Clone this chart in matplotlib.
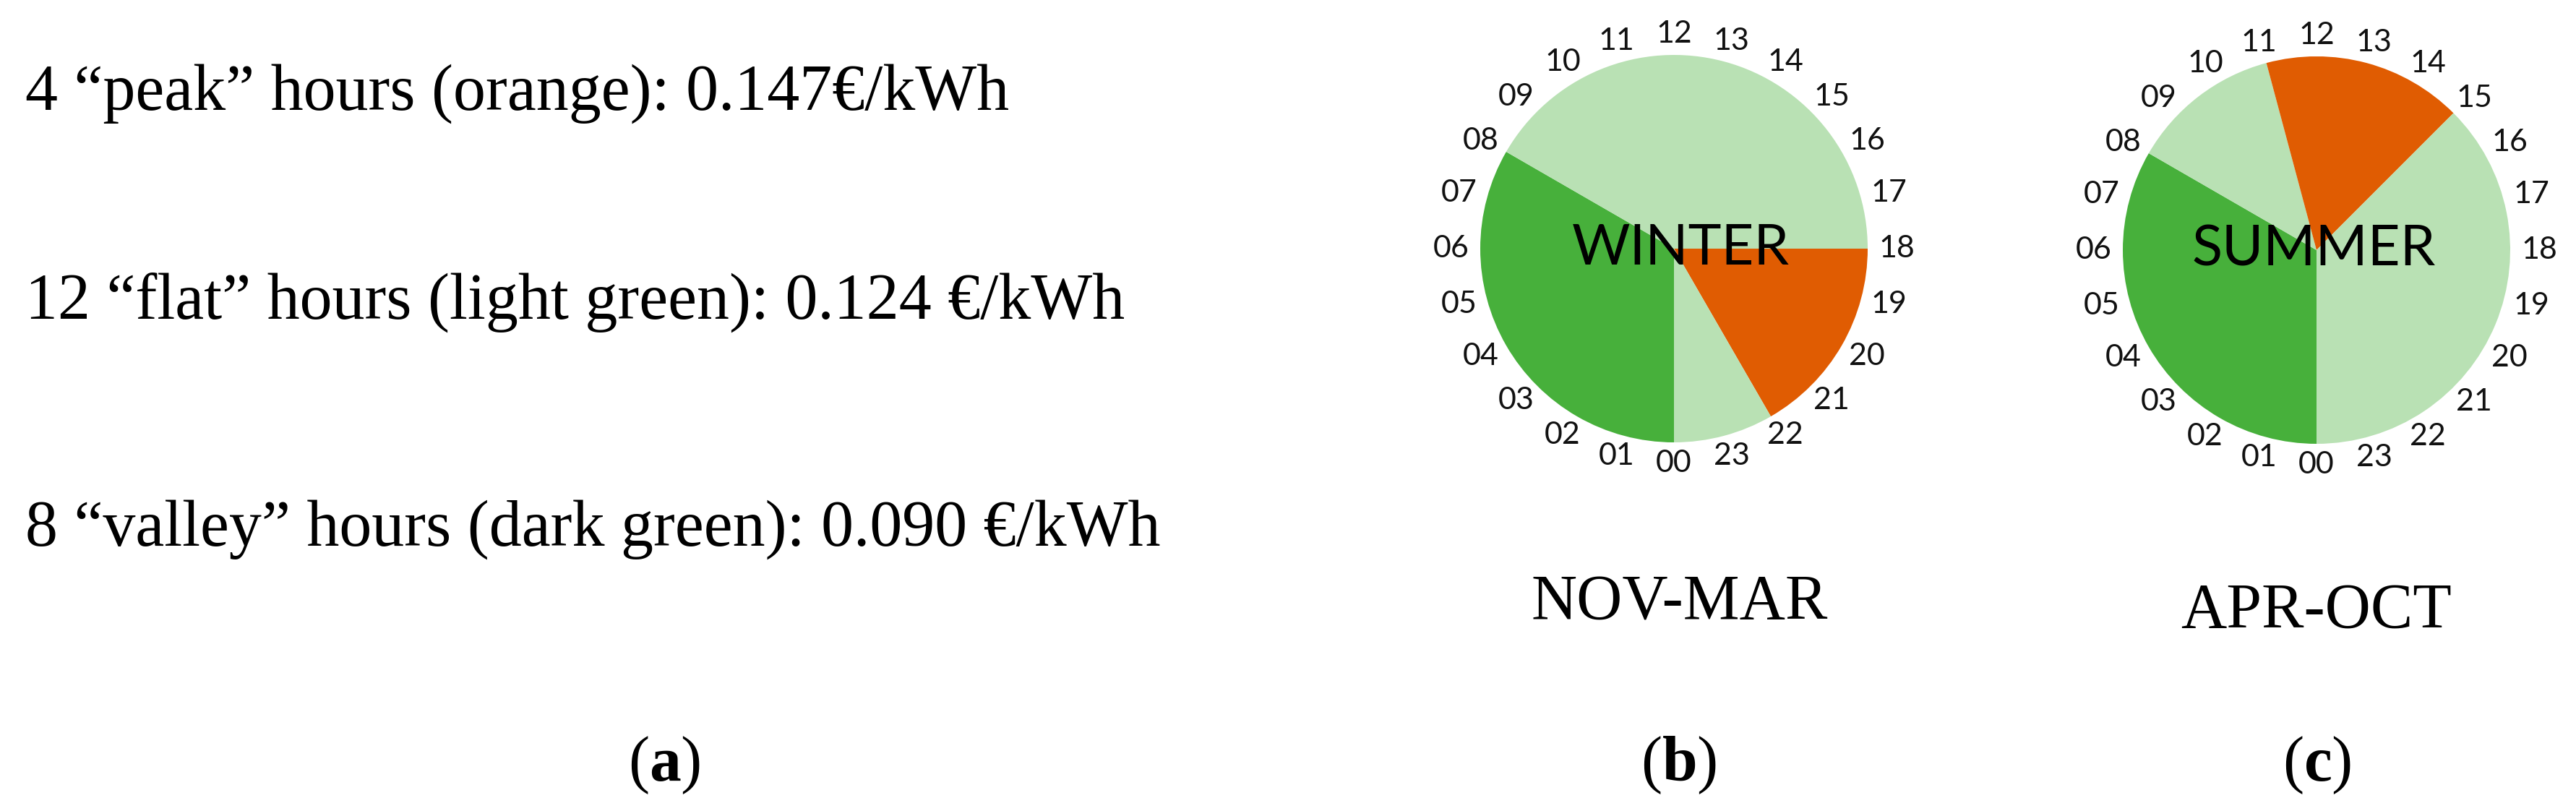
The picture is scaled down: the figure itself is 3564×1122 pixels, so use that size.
import matplotlib
matplotlib.use("Agg")
import numpy as np
import matplotlib.pyplot as plt

# ─── Data ────────────────────────────────────────────────────
hours = list(range(24))

tariff_lines = [
    "4 \u201cpeak\u201d hours (orange): 0.147\u20ac/kWh",
    "12 \u201cflat\u201d hours (light green): 0.124 \u20ac/kWh",
    "8 \u201cvalley\u201d hours (dark green): 0.090 \u20ac/kWh",
]

# consecutive blocks starting at 00h, going clockwise
winter_blocks = [8, 10, 4, 2]
winter_kinds = ["valley", "flat", "peak", "flat"]
summer_blocks = [8, 3, 4, 9]
summer_kinds = ["valley", "flat", "peak", "flat"]

season_names = ["WINTER", "SUMMER"]
season_months = ["NOV-MAR", "APR-OCT"]
panel_tags = ["a", "b", "c"]

# ─── Style ───────────────────────────────────────────────────
W, H, DPI = 3564, 1122, 100
COLORS = {"valley": "#47b03b", "flat": "#b9e1b4", "peak": "#e05c02"}
SERIF = "Liberation Serif"
SANS = "Lato"
R_PX = 268          # pie radius in pixels
LIM = 1.3

plt.rcParams["mathtext.fontset"] = "custom"
plt.rcParams["mathtext.rm"] = SERIF
plt.rcParams["mathtext.bf"] = SERIF + ":bold"

fig = plt.figure(figsize=(W / DPI, H / DPI), dpi=DPI)
fig.patch.set_facecolor("white")


def fx(x):
    return x / W


def fy(y):
    return 1 - y / H


# ─── Left panel: tariffs ─────────────────────────────────────
for line, yb in zip(tariff_lines, [152, 441, 755]):
    fig.text(fx(35), fy(yb), line, fontsize=64.8, family=SERIF,
             ha="left", va="baseline")


# ─── Clock pies ──────────────────────────────────────────────
def clock(cx, cy, blocks, kinds, name, name_dx, name_dy):
    side = 2 * LIM * R_PX
    ax = fig.add_axes([fx(cx - side / 2), fy(cy + side / 2), side / W, side / H])
    ax.pie(blocks, colors=[COLORS[k] for k in kinds], startangle=270,
           counterclock=False, radius=1, wedgeprops=dict(linewidth=0))
    ax.set_xlim(-LIM, LIM)
    ax.set_ylim(-LIM, LIM)
    ax.set_aspect("equal")
    ax.axis("off")
    for h in hours:
        a = np.deg2rad(270 - 15 * h)
        ax.text(1.15 * np.cos(a), 1.11 * np.sin(a), f"{h:02d}",
                ha="center", va="center", fontsize=31, family=SANS, color="#111111")
    ax.text(name_dx, name_dy, name, ha="center", va="center",
            fontsize=56, family=SANS, color="black")
    return ax


clock(2316, 344, winter_blocks, winter_kinds, season_names[0], 0.034, 0.0)
clock(3205, 346, summer_blocks, summer_kinds, season_names[1], -0.015, 0.0)

fig.text(fx(2324), fy(857), season_months[0], fontsize=63, family=SERIF,
         ha="center", va="baseline")
fig.text(fx(3205), fy(868), season_months[1], fontsize=63, family=SERIF,
         ha="center", va="baseline")

# ─── Panel tags ──────────────────────────────────────────────
for tag, x in zip(panel_tags, [919, 2323, 3206]):
    fig.text(fx(x), fy(1080), "($\\mathbf{%s}$)" % tag, fontsize=63,
             family=SERIF, ha="center", va="baseline")

fig.savefig("out.png", dpi=DPI, facecolor="white")
